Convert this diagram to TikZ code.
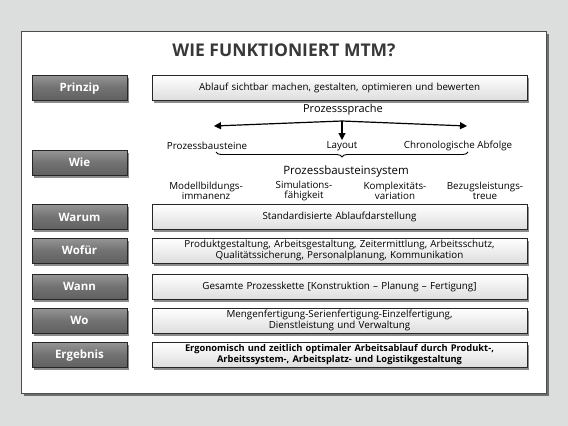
\documentclass[tikz,border=0pt]{standalone}
\usepackage{fontspec}
\setmainfont{Open Sans}
\usetikzlibrary{shadows,decorations.pathreplacing,arrows.meta}
\definecolor{bggray}{HTML}{DCDDDD}
\definecolor{lblgray}{HTML}{727272}
\begin{document}
\begin{tikzpicture}[x=1pt,y=-1pt,
  shd/.style={drop shadow={shadow xshift=2pt,shadow yshift=-2.5pt,opacity=0.45,fill=black}},
  lbl/.style={draw=black!85, line width=0.6pt, top color=lblgray!75!white, bottom color=lblgray!85!black,
    middle color=lblgray,
    text=white, font=\bfseries\fontsize{11.5}{13}\selectfont,
    text height=8.3pt, text depth=0pt,
    minimum width=95pt, minimum height=25pt, inner sep=0pt, shd},
  cnt/.style={draw=black!85, line width=0.5pt, top color=white, bottom color=black!13,
    font=\fontsize{9.8}{11.5}\selectfont, text width=371pt, align=center,
    minimum width=375pt, minimum height=25pt, inner sep=1pt, shd},
  sm/.style={font=\fontsize{9.8}{10.6}\selectfont, align=center, inner sep=0pt},
  arr/.style={line width=1.2pt, -{Triangle[length=7pt,width=7pt]}}
]
\useasboundingbox (0,0) rectangle (568,426);
\fill[bggray] (0,0) rectangle (568,426);
\node[draw=black!70, line width=0.6pt, fill=white, minimum width=525pt, minimum height=362pt,
  inner sep=0pt, drop shadow={shadow xshift=3pt,shadow yshift=-3pt,opacity=0.5,fill=black}] (panel) at (283.5,212) {};
\node[font=\bfseries\fontsize{17.5}{20}\selectfont, text=black!78] (title) at (284,50) {WIE FUNKTIONIERT MTM?};

% left labels
\node[lbl] (l1) at (79.5,87.5) {Prinzip};
\node[lbl] (l2) at (79.5,162.5) {Wie};
\node[lbl] (l3) at (79.5,217) {Warum};
\node[lbl] (l4) at (79.5,250.5) {Wofür};
\node[lbl] (l5) at (79.5,286.5) {Wann};
\node[lbl] (l6) at (79.5,320.5) {Wo};
\node[lbl] (l7) at (79.5,354.5) {Ergebnis};

% right content
\node[cnt] (r1) at (339.5,87.5) {Ablauf sichtbar machen, gestalten, optimieren und bewerten};
\node[cnt] (r3) at (339.5,217) {Standardisierte Ablaufdarstellung};
\node[cnt] (r4) at (339.5,250.5) {Produktgestaltung, Arbeitsgestaltung, Zeitermittlung, Arbeitsschutz,\\Qualitätssicherung, Personalplanung, Kommunikation};
\node[cnt] (r5) at (339.5,286.5) {Gesamte Prozesskette [Konstruktion – Planung – Fertigung]};
\node[cnt] (r6) at (339.5,320.5) {Mengenfertigung-Serienfertigung-Einzelfertigung,\\Dienstleistung und Verwaltung};
\node[cnt, font=\bfseries\fontsize{9.3}{11.5}\selectfont] (r7) at (339.5,354.5) {Ergonomisch und zeitlich optimaler Arbeitsablauf durch Produkt-,\\Arbeitssystem-, Arbeitsplatz- und Logistikgestaltung};

% Wie section
\node[font=\fontsize{11}{13}\selectfont] (sprache) at (343,110) {Prozesssprache};
\coordinate (c) at (342,121);
\coordinate (aL) at (214,126);
\coordinate (aR) at (467,126);
\coordinate (aD) at (342,140);
\draw[arr] (c) -- (aL);
\draw[arr] (c) -- (aR);
\draw[arr] (c) -- (aD);
\node[sm] (pb) at (207,146) {Prozessbausteine};
\node[sm] (lay) at (342,146) {Layout};
\node[sm] (chr) at (458,146) {Chronologische Abfolge};
\coordinate (bL) at (216,152);
\coordinate (bR) at (468,152);
\draw[line width=0.9pt, decorate, decoration={brace, amplitude=5pt}] (bR) -- (bL);
\node[font=\fontsize{11.5}{13}\selectfont] (system) at (346,172) {Prozessbausteinsystem};
\node[sm] (m1) at (206,191) {Modellbildungs-\\immanenz};
\node[sm] (m2) at (304,191) {Simulations-\\fähigkeit};
\node[sm] (m3) at (395,191) {Komplexitäts-\\variation};
\node[sm] (m4) at (485,191) {Bezugsleistungs-\\treue};
\end{tikzpicture}
\end{document}
